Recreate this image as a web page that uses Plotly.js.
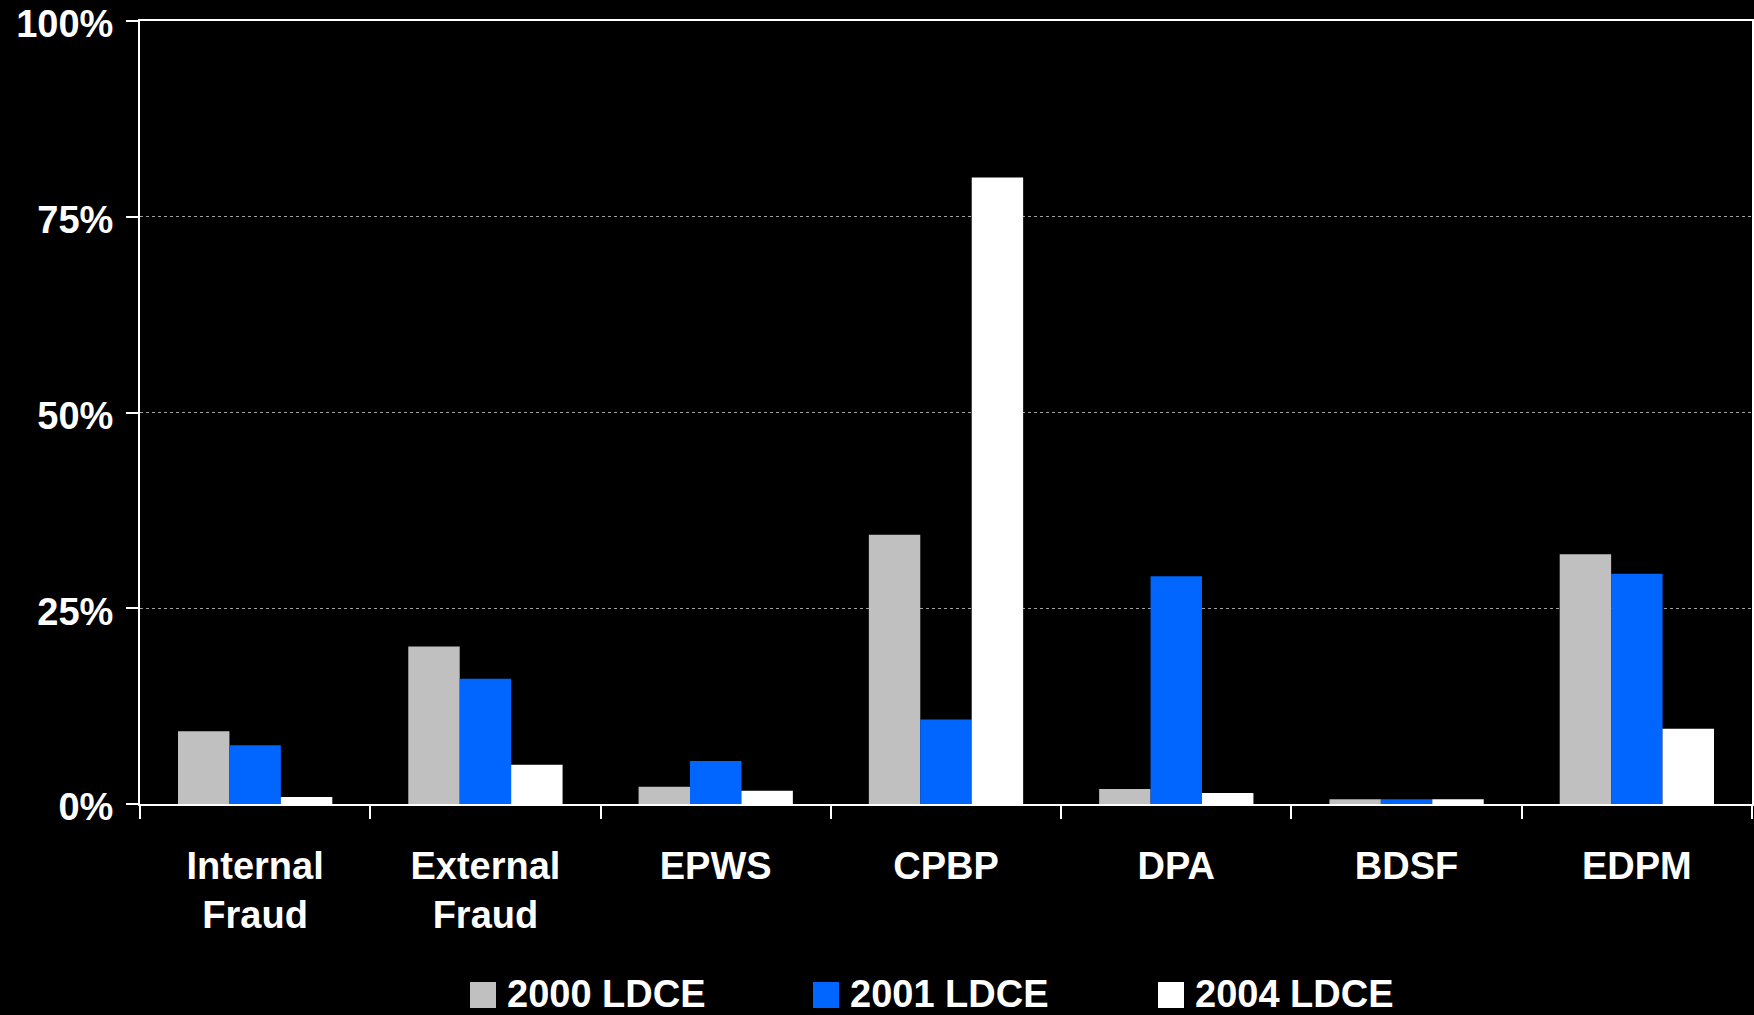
<!DOCTYPE html>
<html>
<head>
<meta charset="utf-8">
<script src="https://cdn.plot.ly/plotly-3.0.1.min.js"></script>
<style>
  html, body { margin: 0; padding: 0; background: #000; }
  #chart { width: 1754px; height: 1015px; }
</style>
</head>
<body>
<div id="chart"></div>
<script>
// ---- Data ----
const categories = ["Internal<br>Fraud", "External<br>Fraud", "EPWS", "CPBP", "DPA", "BDSF", "EDPM"];
const seriesNames = ["2000 LDCE", "2001 LDCE", "2004 LDCE"];
const ldce2000 = [9.3, 20.1, 2.2, 34.4, 1.9, 0.6, 31.9];
const ldce2001 = [7.5, 16.0, 5.5, 10.8, 29.1, 0.6, 29.4];
const ldce2004 = [0.9, 5.0, 1.7, 80.0, 1.4, 0.6, 9.6];
const yTickVals = [0, 25, 50, 75, 100];
const yTickText = ["0%", "25%", "50%", "75%", "100%"];
const seriesColors = ["#C0C0C0", "#0066FF", "#FFFFFF"];

// ---- Layout geometry ----
const W = 1754, H = 1015;
const M = { l: 140, r: 2, t: 21, b: 211 };
const plotW = W - M.l - M.r, plotH = H - M.t - M.b;
const px2x = p => (p - M.l) / plotW;
const px2y = p => (H - M.b - p) / plotH;

const seriesValues = [ldce2000, ldce2001, ldce2004];
const traces = seriesValues.map((vals, i) => ({
  type: "bar",
  name: seriesNames[i],
  x: categories,
  y: vals,
  marker: { color: seriesColors[i], line: { width: 0 } },
  showlegend: false,
  hoverinfo: "x+y"
}));

// custom legend (large squares like the reference)
const legendSquareX = [470, 813, 1158];
const shapes = [];
const annotations = [];
legendSquareX.forEach((sx, i) => {
  shapes.push({
    type: "rect", xref: "paper", yref: "paper",
    x0: px2x(sx), x1: px2x(sx + 26),
    y0: px2y(1008), y1: px2y(982),
    fillcolor: seriesColors[i], line: { width: 0 }
  });
  annotations.push({
    xref: "paper", yref: "paper",
    x: px2x(sx + 35), y: px2y(994),
    xanchor: "left", yanchor: "middle",
    text: seriesNames[i], showarrow: false,
    font: { family: "Liberation Sans, Arial, sans-serif", size: 38, color: "#FFFFFF", weight: "bold" }
  });
});

const layout = {
  width: W, height: H,
  margin: M,
  paper_bgcolor: "#000000",
  plot_bgcolor: "#000000",
  font: { family: "Liberation Sans, Arial, sans-serif", size: 38, color: "#FFFFFF", weight: "bold" },
  barmode: "group",
  bargap: 0.33,
  bargroupgap: 0,
  showlegend: false,
  xaxis: {
    type: "category",
    showline: true, linecolor: "#FFFFFF", linewidth: 2, mirror: true,
    ticks: "outside", tickson: "boundaries", ticklen: 13, tickwidth: 2, tickcolor: "#FFFFFF",
    ticklabelstandoff: 27,
    showgrid: false, zeroline: false,
    tickfont: { family: "Liberation Sans, Arial, sans-serif", size: 38, color: "#FFFFFF", weight: "bold" }
  },
  yaxis: {
    range: [0, 100],
    tickvals: yTickVals, ticktext: yTickText,
    showline: true, linecolor: "#FFFFFF", linewidth: 2, mirror: true,
    ticks: "outside", ticklen: 12, tickwidth: 2, tickcolor: "#FFFFFF",
    ticklabelstandoff: 5,
    ticklabelshift: 3,
    ticklabeloverflow: "allow",
    showgrid: true, gridcolor: "#A0A0A0", gridwidth: 1, griddash: "dot",
    zeroline: false,
    tickfont: { family: "Liberation Sans, Arial, sans-serif", size: 38, color: "#FFFFFF", weight: "bold" }
  },
  shapes: shapes,
  annotations: annotations
};

Plotly.newPlot("chart", traces, layout, { displayModeBar: false, staticPlot: true });
</script>
</body>
</html>
